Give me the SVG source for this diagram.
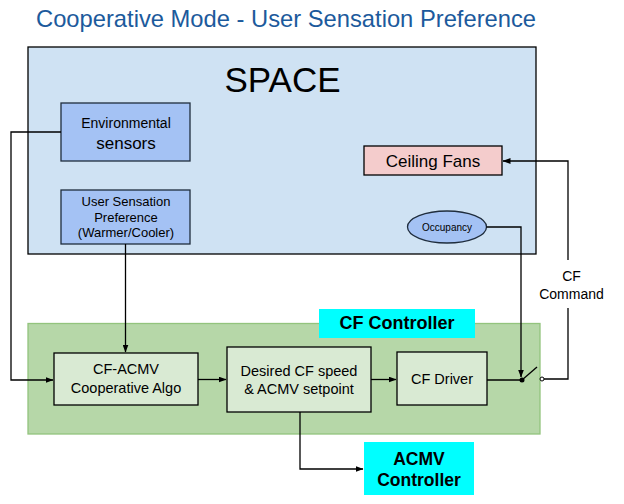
<svg xmlns="http://www.w3.org/2000/svg" width="624" height="504" viewBox="0 0 624 504">
<defs>
<marker id="ah" markerWidth="8" markerHeight="6" refX="7.5" refY="3" orient="auto" markerUnits="userSpaceOnUse">
<path d="M0,0 L8,3 L0,6 Z" fill="#000"/>
</marker>
<style>
text{font-family:"Liberation Sans",Arial,sans-serif;fill:#000;text-anchor:middle}
.box{stroke:#000;stroke-width:1.3}
.inner{fill:#d9ead3}
.con{fill:none;stroke:#000;stroke-width:1.3}
.bold{font-weight:bold}
</style>
</defs>
<rect width="624" height="504" fill="#fff"/>
<text x="36" y="27" font-size="24" style="text-anchor:start;fill:#1c5a9c" textLength="500" lengthAdjust="spacingAndGlyphs">Cooperative Mode - User Sensation Preference</text>

<g id="space">
<rect x="28" y="47" width="508" height="207" fill="#cfe2f3" class="box"/>
<text x="282.5" y="92" font-size="35">SPACE</text>
</g>

<g id="cf-controller">
<rect x="28" y="323.5" width="512" height="110.5" fill="#b6d7a8" stroke="#93c47d" stroke-width="1.3"/>
<rect x="319" y="309" width="156" height="29" fill="#00ffff"/>
<text x="397" y="329" font-size="18" class="bold">CF Controller</text>
</g>

<g id="env-sensors">
<rect x="61" y="103" width="129" height="58" fill="#a4c2f4" stroke="#1f2d3d" stroke-width="1.3"/>
<text x="126" y="128" font-size="14">Environmental</text>
<text x="126" y="149" font-size="17">sensors</text>
</g>

<g id="user-pref">
<rect x="61" y="190" width="129" height="54" fill="#a4c2f4" stroke="#1f2d3d" stroke-width="1.3"/>
<text x="126" y="206" font-size="13">User Sensation</text>
<text x="126" y="221.5" font-size="13">Preference</text>
<text x="126" y="237" font-size="13">(Warmer/Cooler)</text>
</g>

<g id="ceiling-fans">
<rect x="364" y="146" width="138" height="29" fill="#f4cccc" class="box"/>
<text x="433" y="166.5" font-size="17">Ceiling Fans</text>
</g>

<g id="occupancy">
<ellipse cx="447" cy="227" rx="39.5" ry="16" fill="#a4c2f4" stroke="#1f2d3d" stroke-width="1.3"/>
<text x="447" y="230.5" font-size="10">Occupancy</text>
</g>

<g id="cf-acmv">
<rect x="54" y="353" width="144" height="52" class="box inner"/>
<text x="126" y="374" font-size="14.5">CF-ACMV</text>
<text x="126" y="393" font-size="14.5">Cooperative Algo</text>
</g>

<g id="desired">
<rect x="227" y="347" width="144" height="65" class="box inner"/>
<text x="299" y="375.5" font-size="14.5">Desired CF speed</text>
<text x="299" y="393.5" font-size="14.5">&amp; ACMV setpoint</text>
</g>

<g id="cf-driver">
<rect x="397" y="352" width="90" height="53" class="box inner"/>
<text x="442" y="384" font-size="14.5">CF Driver</text>
</g>

<g id="acmv-controller">
<rect x="364" y="442" width="110" height="53" fill="#00ffff"/>
<text x="419" y="465" font-size="17.5" class="bold">ACMV</text>
<text x="419" y="486" font-size="17.5" class="bold">Controller</text>
</g>

<g id="cf-command-label">
<text x="571.5" y="281" font-size="14">CF</text>
<text x="571.5" y="299" font-size="14">Command</text>
</g>

<g id="connectors">
<polyline class="con" points="61,132 11,132 11,380 53,380" marker-end="url(#ah)"/>
<polyline class="con" points="125.5,244 125.5,352" marker-end="url(#ah)"/>
<polyline class="con" points="198,379.5 226,379.5" marker-end="url(#ah)"/>
<polyline class="con" points="371,379.5 396,379.5" marker-end="url(#ah)"/>
<polyline class="con" points="487,380 522,380"/>
<polyline class="con" points="486.5,227 521,227 521,377" marker-end="url(#ah)"/>
<polyline class="con" points="300,412 300,469 363,469" marker-end="url(#ah)"/>
<polyline class="con" points="544,379 568,379 568,308"/>
<polyline class="con" points="568,260 568,161 503,161" marker-end="url(#ah)"/>
<g id="switch">
<circle cx="522" cy="380" r="2.5" fill="#000"/>
<line x1="522" y1="380" x2="537" y2="367" stroke="#000" stroke-width="1.3"/>
<circle cx="542" cy="379" r="2" fill="#fff" stroke="#000" stroke-width="1"/>
</g>
</g>
</svg>
